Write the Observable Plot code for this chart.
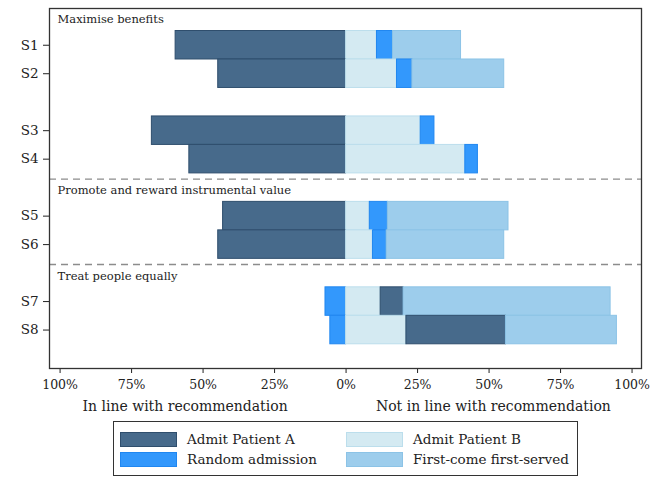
<!DOCTYPE html>
<html>
<head>
<meta charset="utf-8">
<script src="https://cdn.jsdelivr.net/npm/d3@7"></script>
<script src="https://cdn.jsdelivr.net/npm/@observablehq/plot@0.6"></script>
<style>
  html, body { margin: 0; padding: 0; background: #fff; }
  #wrap { position: relative; width: 658px; height: 479px; font-family: "DejaVu Serif", serif; color: #222; }
  #legend { position: absolute; left: 113px; top: 421px; width: 465px; height: 55px; border: 1px solid #333; box-sizing: border-box; }
  .sw { position: absolute; width: 57px; height: 15px; box-sizing: border-box; border: 1px solid; }
  .lt { position: absolute; font-size: 13.5px; line-height: 15px; white-space: nowrap; }
</style>
</head>
<body>
<div id="wrap"><div id="chart"></div><div id="legend"></div></div>
<script>
// ---- data ----
const scenarios = ["S1", "S2", "S3", "S4", "S5", "S6", "S7", "S8"];
const rowOrder = ["", "S1", "S2", "", "S3", "S4", "", "S5", "S6", "", "S7", "S8"];
const admitA = [59.6, 44.7, 67.9, 54.8, 43.0, 44.7, 8.0, 34.8];
const admitB = [10.8, 17.8, 26.1, 41.7, 8.3, 9.4, 12.1, 21.1];
const randomAdm = [5.6, 5.4, 4.8, 4.4, 6.3, 4.8, 7.2, 5.5];
const fcfs = [23.8, 32.1, 0, 0, 42.2, 41.1, 72.4, 38.8];
const recommended = ["A", "A", "A", "A", "A", "A", "Random", "Random"];
const sectionNames = ["Maximise benefits", "Promote and reward instrumental value", "Treat people equally"];
const sectionFirst = ["S1", "S5", "S7"];
const xTicks = [-100, -75, -50, -25, 0, 25, 50, 75, 100];
const axisTitles = ["In line with recommendation", "Not in line with recommendation"];
const axisTitleX = [-56.3, 51.5];
const optionNames = {A: "Admit Patient A", B: "Admit Patient B", Random: "Random admission", FCFS: "First-come first-served"};
const fills = {A: "#476a8b", B: "#d4eaf2", Random: "#3398fc", FCFS: "#9dcdec"};
const strokes = {A: "#2f4e6d", B: "#bcdeec", Random: "#2187f0", FCFS: "#8cc3e6"};

// ---- build segments ----
const values = {A: admitA, B: admitB, Random: randomAdm, FCFS: fcfs};
const segments = [];
scenarios.forEach((s, i) => {
  const pos = rowOrder.indexOf(s);
  const rec = recommended[i];
  segments.push({key: rec, x1: -values[rec][i], x2: 0, y1: pos - 0.5, y2: pos + 0.5});
  const other = rec === "A" ? "Random" : "A";
  let acc = 0;
  for (const k of ["B", other, "FCFS"]) {
    const v = values[k][i];
    if (v > 0) segments.push({key: k, x1: acc, x2: acc + v, y1: pos - 0.5, y2: pos + 0.5});
    acc += v;
  }
});
const sectionLabels = sectionNames.map((n, i) => ({text: n, y: rowOrder.indexOf(sectionFirst[i]) - 0.9}));
const dividers = sectionFirst.slice(1).map(s => rowOrder.indexOf(s) - 1.3);
const titles = axisTitles.map((t, i) => ({text: t, x: axisTitleX[i]}));
const yTicks = scenarios.map(s => rowOrder.indexOf(s));

const chart = Plot.plot({
  width: 658, height: 420,
  marginLeft: 49, marginRight: 17, marginTop: 8, marginBottom: 52,
  style: {fontFamily: "DejaVu Serif", fontSize: "13px", color: "#222", background: "white", overflow: "visible"},
  x: {domain: [-103.7, 103.3]},
  y: {domain: [-0.29, 12.35], reverse: true},
  marks: [
    Plot.rect(segments, {x1: "x1", x2: "x2", y1: "y1", y2: "y2", fill: d => fills[d.key], stroke: d => strokes[d.key], strokeWidth: 1}),
    Plot.ruleY(dividers, {stroke: "#8c8c8c", strokeWidth: 1.4, strokeDasharray: "7,5"}),
    Plot.text(sectionLabels, {y: "y", text: "text", frameAnchor: "left", dx: 8, textAnchor: "start", fontSize: 11.5, fill: "#222"}),
    Plot.axisX({ticks: xTicks, tickFormat: d => Math.abs(d) + "%", tickSize: 5, tickPadding: 7, fontSize: 12.5, label: null, stroke: "#222"}),
    Plot.axisY({ticks: yTicks, tickFormat: p => rowOrder[p], tickSize: 6, tickPadding: 5, fontSize: 13.5, label: null, stroke: "#222"}),
    Plot.text(titles, {x: "x", text: "text", frameAnchor: "bottom", dy: 42, fontSize: 14, fill: "#222"}),
    Plot.frame({stroke: "#333", strokeWidth: 1.3})
  ]
});
document.getElementById("chart").appendChild(chart);

// ---- legend ----
const legend = document.getElementById("legend");
const legendItems = [["A", 0, 0], ["Random", 0, 1], ["B", 1, 0], ["FCFS", 1, 1]];
const colX = [6, 232], textX = [73, 299], rowY = [10, 30];
for (const [k, c, r] of legendItems) {
  const sw = document.createElement("div");
  sw.className = "sw";
  sw.style.left = colX[c] + "px"; sw.style.top = rowY[r] + "px";
  sw.style.background = fills[k]; sw.style.borderColor = strokes[k];
  legend.appendChild(sw);
  const t = document.createElement("div");
  t.className = "lt";
  t.style.left = textX[c] + "px"; t.style.top = rowY[r] + "px";
  t.textContent = optionNames[k];
  legend.appendChild(t);
}
</script>
</body>
</html>
